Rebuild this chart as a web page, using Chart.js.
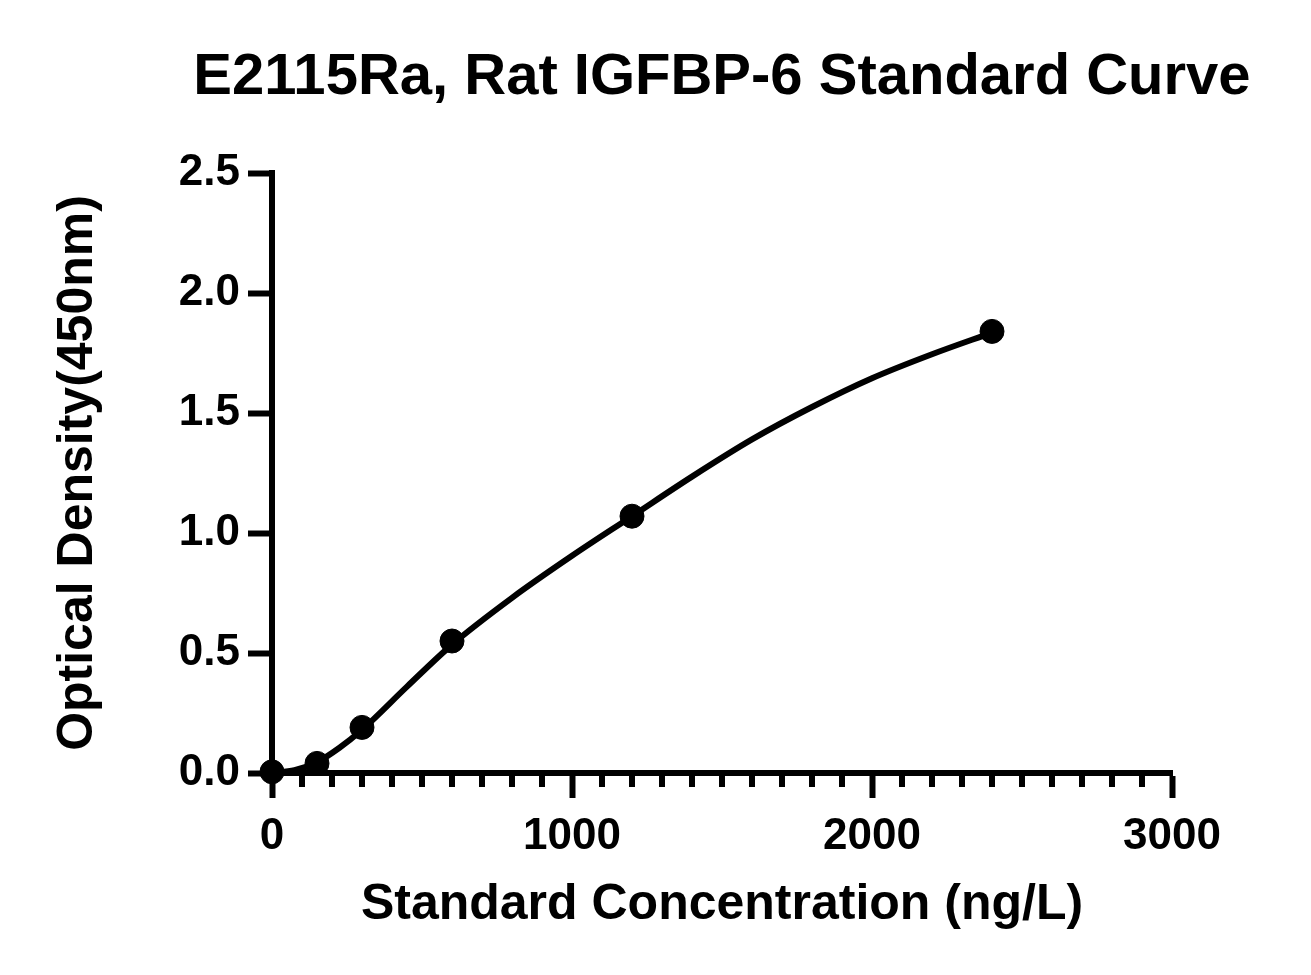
<!DOCTYPE html>
<html>
<head>
<meta charset="utf-8">
<script src="https://cdn.jsdelivr.net/npm/chart.js@4"></script>
<style>
  html, body { margin: 0; padding: 0; background: #fff; }
  #wrap { width: 1311px; height: 975px; }
</style>
</head>
<body>
<div id="wrap"><canvas id="curveChart" width="1311" height="975"></canvas></div>
<script>
// standard points
var concentraciones = [0, 150, 300, 600, 1200, 2400];
var densidades = [0.005, 0.04, 0.19, 0.55, 1.07, 1.84];
// fitted curve
var curvaX = [0, 75, 150, 225, 300, 450, 600, 800, 1000, 1200, 1400, 1600, 1800, 2000, 2200, 2400];
var curvaY = [0.0, 0.012, 0.045, 0.105, 0.18, 0.36, 0.535, 0.73, 0.905, 1.07, 1.235, 1.39, 1.525, 1.645, 1.745, 1.835];
var xTicks = [0, 1000, 2000, 3000];
var yTicks = [0.0, 0.5, 1.0, 1.5, 2.0, 2.5];
var titulo = 'E2115Ra, Rat IGFBP-6 Standard Curve';

var fuente = "'Liberation Sans', Arial, sans-serif";

var puntos = [];
for (var i = 0; i < concentraciones.length; i++) {
    puntos.push({ x: concentraciones[i], y: densidades[i] });
}
var curva = [];
for (var j = 0; j < curvaX.length; j++) {
    curva.push({ x: curvaX[j], y: curvaY[j] });
}

// minor ticks every 100 on the x axis and the title centred over the plot area
var extras = {
    id: 'extras',
    afterDatasetsDraw: function (chart) {
        var ctx = chart.ctx;
        var xs = chart.scales.x;
        var area = chart.chartArea;
        ctx.save();
        ctx.strokeStyle = '#000';
        ctx.lineWidth = 6;
        for (var v = xTicks[0]; v <= xTicks[xTicks.length - 1]; v += 100) {
            if (v % 1000 === 0) continue;
            var px = xs.getPixelForValue(v);
            ctx.beginPath();
            ctx.moveTo(px, area.bottom);
            ctx.lineTo(px, area.bottom + 14);
            ctx.stroke();
        }
        ctx.fillStyle = '#000';
        ctx.font = 'bold 58px ' + fuente;
        ctx.textAlign = 'center';
        ctx.textBaseline = 'alphabetic';
        ctx.fillText(titulo, (area.left + area.right) / 2, 94);
        ctx.restore();
    }
};

var ctx = document.getElementById('curveChart').getContext('2d');
var chart = new Chart(ctx, {
    type: 'scatter',
    data: {
        datasets: [{
            label: 'Curve',
            data: curva,
            showLine: true,
            cubicInterpolationMode: 'monotone',
            borderColor: '#000',
            borderWidth: 6,
            pointRadius: 0,
            clip: false,
            order: 2
        }, {
            label: 'Standards',
            data: puntos,
            showLine: false,
            backgroundColor: '#000',
            borderColor: '#000',
            pointRadius: 12,
            clip: false,
            order: 1
        }]
    },
    options: {
        responsive: false,
        animation: false,
        devicePixelRatio: 1,
        layout: { padding: { left: 48, right: 139, top: 173, bottom: 40 } },
        plugins: {
            legend: { display: false },
            tooltip: { enabled: false },
            title: { display: false }
        },
        scales: {
            x: {
                type: 'linear',
                min: xTicks[0],
                max: xTicks[xTicks.length - 1],
                afterBuildTicks: function (scale) {
                    scale.ticks = xTicks.map(function (v) { return { value: v }; });
                },
                afterFit: function (scale) { scale.height = 162; },
                border: { display: true, color: '#000', width: 6 },
                grid: { drawOnChartArea: false, drawTicks: true, tickLength: 25, tickColor: '#000', tickWidth: 6 },
                ticks: {
                    color: '#000',
                    padding: 12,
                    maxRotation: 0,
                    font: { family: fuente, size: 44, weight: 'bold' },
                    callback: function (v) { return String(v); }
                },
                title: {
                    display: true,
                    text: 'Standard Concentration (ng/L)',
                    color: '#000',
                    font: { family: fuente, size: 50, weight: 'bold' },
                    padding: { top: 0, bottom: 0 }
                }
            },
            y: {
                type: 'linear',
                min: yTicks[0],
                max: yTicks[yTicks.length - 1],
                afterBuildTicks: function (scale) {
                    scale.ticks = yTicks.map(function (v) { return { value: v }; });
                },
                afterFit: function (scale) { scale.width = 224; },
                border: { display: true, color: '#000', width: 6 },
                grid: { drawOnChartArea: false, drawTicks: true, tickLength: 24, tickColor: '#000', tickWidth: 6 },
                ticks: {
                    color: '#000',
                    padding: 8,
                    font: { family: fuente, size: 44, weight: 'bold' },
                    callback: function (v) { return Number(v).toFixed(1); }
                },
                title: {
                    display: true,
                    text: 'Optical Density(450nm)',
                    color: '#000',
                    font: { family: fuente, size: 50, weight: 'bold' },
                    padding: { top: 0, bottom: 0 }
                }
            }
        }
    },
    plugins: [extras]
});
</script>
</body>
</html>
